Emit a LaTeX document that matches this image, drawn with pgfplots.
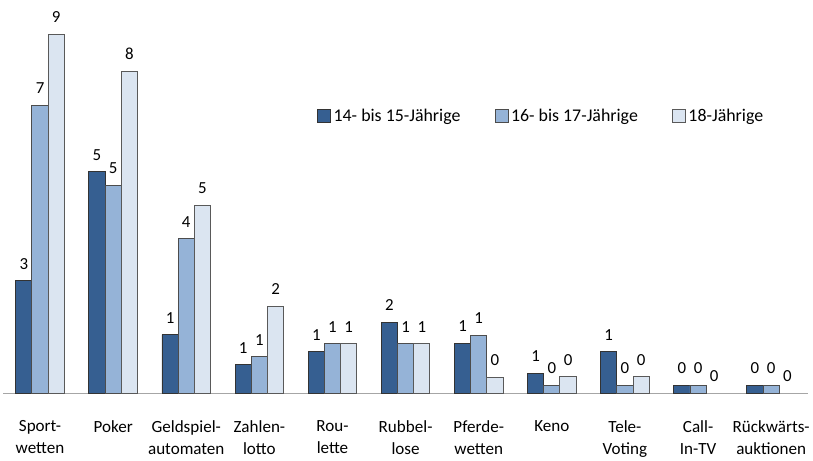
\documentclass[border=0pt]{standalone}
\usepackage{fontspec}
\setmainfont{Carlito}
\usepackage{pgfplots}
\pgfplotsset{compat=1.18}
\definecolor{c1}{HTML}{365F91}
\definecolor{c2}{HTML}{95B3D7}
\definecolor{c3}{HTML}{DBE5F1}
\begin{document}
\begin{tikzpicture}
\begin{axis}[
 scale only axis, width=810pt, height=396pt,
 xmin=-0.5, xmax=10.5, ymin=0, ymax=9.754,
 ybar=0pt, bar width=16.3pt,
 axis x line*=bottom, axis y line=none, ytick=\empty,
 x axis line style={draw=black!35, line width=1.2pt, -},
 xtick={0,...,10}, major tick length=0pt,
 xticklabels={{Sport-\\wetten},{Poker},{Geldspiel-\\automaten},{Zahlen-\\lotto},{Rou-\\lette},{Rubbel-\\lose},{Pferde-\\wetten},{Keno},{Tele-\\Voting},{Call-\\In-TV},{Rückwärts-\\auktionen}},
 xticklabel style={align=center, font=\fontsize{17.2}{21.8}\selectfont, yshift=-24pt},
 point meta=explicit symbolic,
 nodes near coords,
 nodes near coords style={font=\fontsize{17}{20}\selectfont, inner sep=0pt, yshift=11pt},
 legend columns=3,
 legend style={draw=none, fill=none, at={(0.39,0.7045)}, anchor=west, inner sep=0pt,
   font=\fontsize{18}{20}\selectfont, nodes={inner sep=2.5pt},
   /tikz/every even column/.append style={column sep=32pt}},
 legend image code/.code={\draw[#1] (0pt,-6.5pt) rectangle (13pt,6.5pt);},
 clip=false,
]
\addplot[fill=c1, draw=black!80, line width=0.9pt, bar shift=-16.3pt] coordinates {
 (0,2.79)[3] (1,5.49)[5] (2,1.45)[1] (3,0.71)[1] (4,1.03)[1] (5,1.76)[2]
 (6,1.24)[1] (7,0.50)[1] (8,1.03)[1] (9,0.20)[0] (10,0.20)[0]};
\addplot[fill=c2, draw=black!70, line width=0.9pt, bar shift=0pt] coordinates {
 (0,7.14)[7] (1,5.16)[5] (2,3.83)[4] (3,0.91)[1] (4,1.23)[1] (5,1.23)[1]
 (6,1.44)[1] (7,0.20)[0] (8,0.20)[0] (9,0.20)[0] (10,0.20)[0]};
\addplot[fill=c3, draw=black!65, line width=0.9pt, bar shift=16.3pt] coordinates {
 (0,8.91)[9] (1,7.99)[8] (2,4.66)[5] (3,2.16)[2] (4,1.23)[1] (5,1.23)[1]
 (6,0.40)[0] (7,0.41)[0] (8,0.41)[0]};
\addplot[draw=none, fill=none, bar shift=16.3pt, forget plot] coordinates {
 (9,0)[0] (10,0)[0]};
\legend{14- bis 15-Jährige, 16- bis 17-Jährige, 18-Jährige}
\end{axis}
\path[use as bounding box] (-3.5pt,-62pt) rectangle (809.5pt,396pt);
\end{tikzpicture}
\end{document}
